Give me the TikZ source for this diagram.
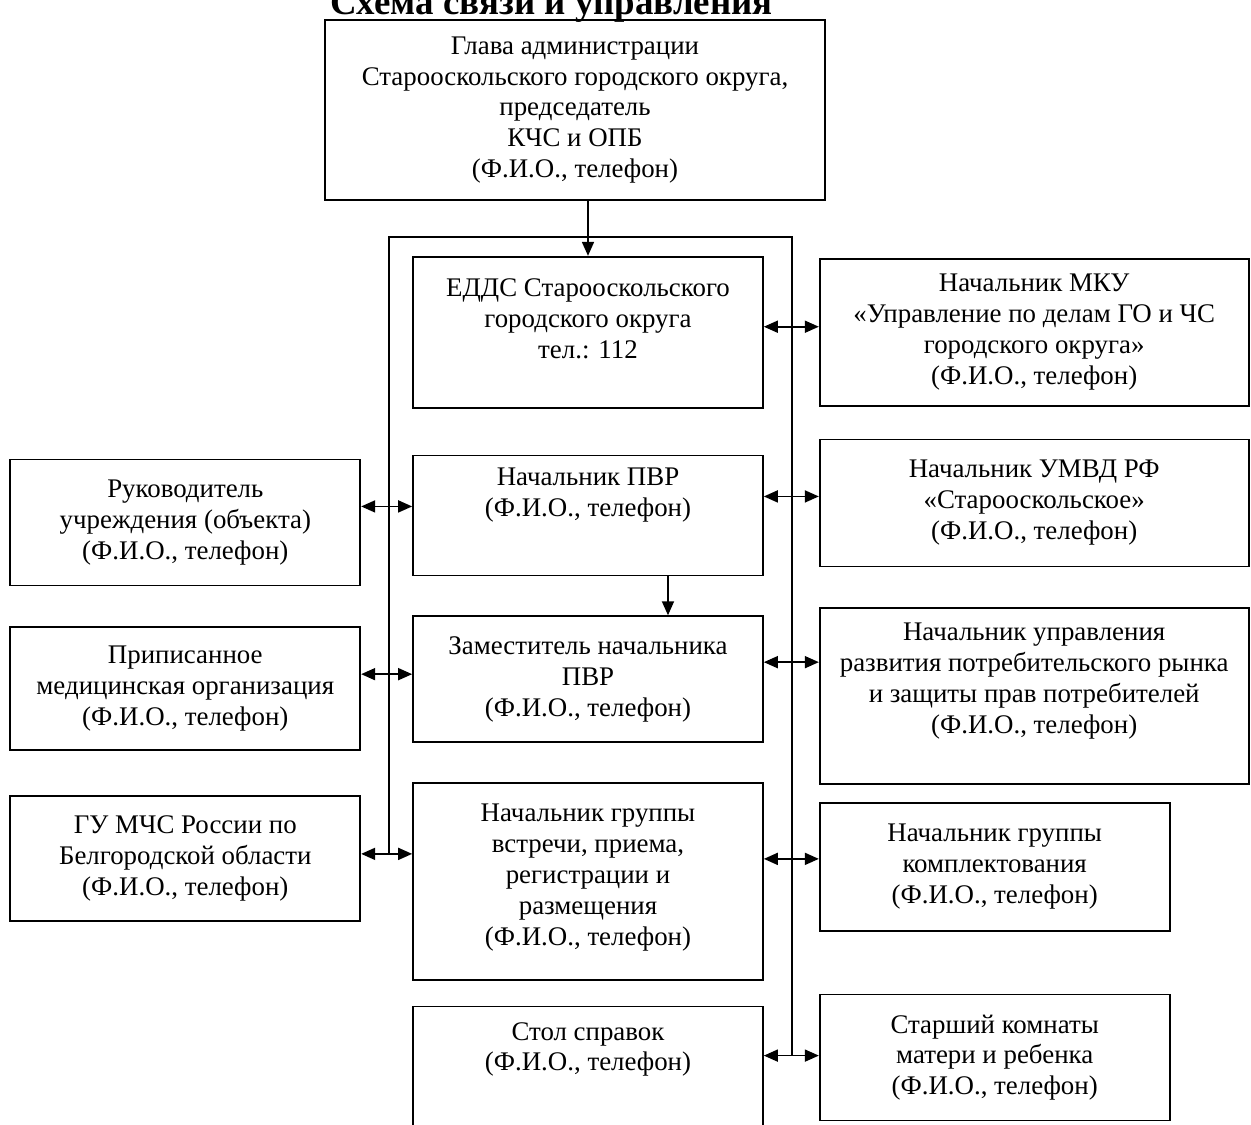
\documentclass[tikz,border=0pt]{standalone}
\usepackage{fontspec}
\setmainfont{Liberation Serif}
\usetikzlibrary{arrows.meta}
\usetikzlibrary{positioning}
\tikzset {
  % box with one post of the scheme
  post/.style = {
    draw = black,
    line width = 1pt,
    rectangle,
    align = center,
    inner sep = 0.1cm,
    minimum width = 7cm,
    font = \fontsize{15.3}{17.6}\selectfont
  },
  % wider box on the right side
  wide/.style = {
    post,
    minimum width = 8.58cm
  },
  % text set higher in its box
  lift/.style = {
    text depth = #1
  },
  title/.style = {
    font = \bfseries\fontsize{21}{24}\selectfont,
    inner sep = 0
  },
  trunk/.style = {
    draw = black,
    line width = 1pt
  },
  % one way connection
  link/.style = {
    trunk,
    -{Triangle[length=0.28cm, width=0.24cm]}
  },
  % two way connection
  dlink/.style = {
    trunk,
    {Triangle[length=0.28cm, width=0.24cm]}-{Triangle[length=0.28cm, width=0.24cm]}
  },
  node distance = 1.1cm
}
\begin{document}
\begin{tikzpicture}[x=0.02cm, y=-0.02cm]
    \useasboundingbox (0,0) rectangle (1251,1125);
    \node[title, anchor=base west] (title) at (330,15) {Схема связи и управления};
    \node[post, minimum width=10cm, minimum height=3.6cm] (glava) at (575,110)
      {Глава администрации\\Старооскольского городского округа,\\председатель\\КЧС и ОПБ\\(Ф.И.О., телефон)};
    % middle column
    \node[post, lift=0.55cm, minimum height=3.02cm] (edds) [below=1.1cm of glava, xshift=0.26cm]
      {ЕДДС Старооскольского\\городского округа\\тел.: 112};
    \node[post, lift=0.93cm, minimum height=2.4cm] (pvr) [below=0.92cm of edds]
      {Начальник ПВР\\(Ф.И.О., телефон)};
    \node[post, minimum height=2.52cm] (zam) [below=0.78cm of pvr]
      {Заместитель начальника\\ПВР\\(Ф.И.О., телефон)};
    \node[post, lift=0.27cm, minimum height=3.94cm] (vstr) [below=0.78cm of zam]
      {Начальник группы\\встречи, приема,\\регистрации и\\размещения\\(Ф.И.О., телефон)};
    \node[post, lift=1cm, minimum height=2.6cm] (stol) [below=0.5cm of vstr]
      {Стол справок\\(Ф.И.О., телефон)};
    % right column
    \node[wide, minimum height=2.94cm] (mku) [right=of edds]
      {Начальник МКУ\\«Управление по делам ГО и ЧС\\городского округа»\\(Ф.И.О., телефон)};
    \node[wide, minimum height=2.54cm] (umvd) [right=of pvr, yshift=0.25cm]
      {Начальник УМВД РФ\\«Старооскольское»\\(Ф.И.О., телефон)};
    \node[wide, lift=0.73cm, minimum height=3.52cm] (razv) [right=of zam, yshift=-0.34cm]
      {Начальник управления\\развития потребительского рынка\\и защиты прав потребителей\\(Ф.И.О., телефон)};
    \node[post, minimum height=2.56cm] (kompl) [right=of vstr, yshift=0.29cm]
      {Начальник группы\\комплектования\\(Ф.И.О., телефон)};
    \node[post, minimum height=2.52cm] (starsh) [right=of stol, yshift=0.28cm]
      {Старший комнаты\\матери и ребенка\\(Ф.И.О., телефон)};
    % left column
    \node[post, minimum height=2.52cm] (ruk) [left=1.02cm of pvr, yshift=-0.14cm]
      {Руководитель\\учреждения (объекта)\\(Ф.И.О., телефон)};
    \node[post, minimum height=2.46cm] (prip) [left=1.02cm of zam, yshift=-0.19cm]
      {Приписанное\\медицинская организация\\(Ф.И.О., телефон)};
    \node[post, minimum height=2.5cm] (gu) [left=1.02cm of vstr, yshift=0.46cm]
      {ГУ МЧС России по\\Белгородской области\\(Ф.И.О., телефон)};

    \coordinate (topL) at (389,237);
    \coordinate (topR) at (792,237);
    \coordinate (endL) at ([yshift=0.09cm]gu.east -| topL);
    \coordinate (endR) at ([yshift=0.04cm]starsh.west -| topR);

    \draw[trunk] (endL) -- (topL) -- (topR) -- (endR);
    \draw[link] (glava.south -| edds.north) -- (edds.north);
    \draw[link] ([xshift=1.6cm]pvr.south) -- ([xshift=1.6cm]pvr.south |- zam.north);

    \draw[dlink] ([yshift=0.32cm]ruk.east) -- ([yshift=0.32cm]ruk.east -| pvr.west);
    \draw[dlink] ([yshift=0.29cm]prip.east) -- ([yshift=0.29cm]prip.east -| zam.west);
    \draw[dlink] ([yshift=0.09cm]gu.east) -- ([yshift=0.09cm]gu.east -| vstr.west);

    \draw[dlink] ([yshift=0.11cm]mku.west -| edds.east) -- ([yshift=0.11cm]mku.west);
    \draw[dlink] ([yshift=0.13cm]umvd.west -| pvr.east) -- ([yshift=0.13cm]umvd.west);
    \draw[dlink] ([yshift=0.68cm]razv.west -| zam.east) -- ([yshift=0.68cm]razv.west);
    \draw[dlink] ([yshift=0.16cm]kompl.west -| vstr.east) -- ([yshift=0.16cm]kompl.west);
    \draw[dlink] ([yshift=0.04cm]starsh.west -| stol.east) -- ([yshift=0.04cm]starsh.west);
  \end{tikzpicture}
\end{document}
